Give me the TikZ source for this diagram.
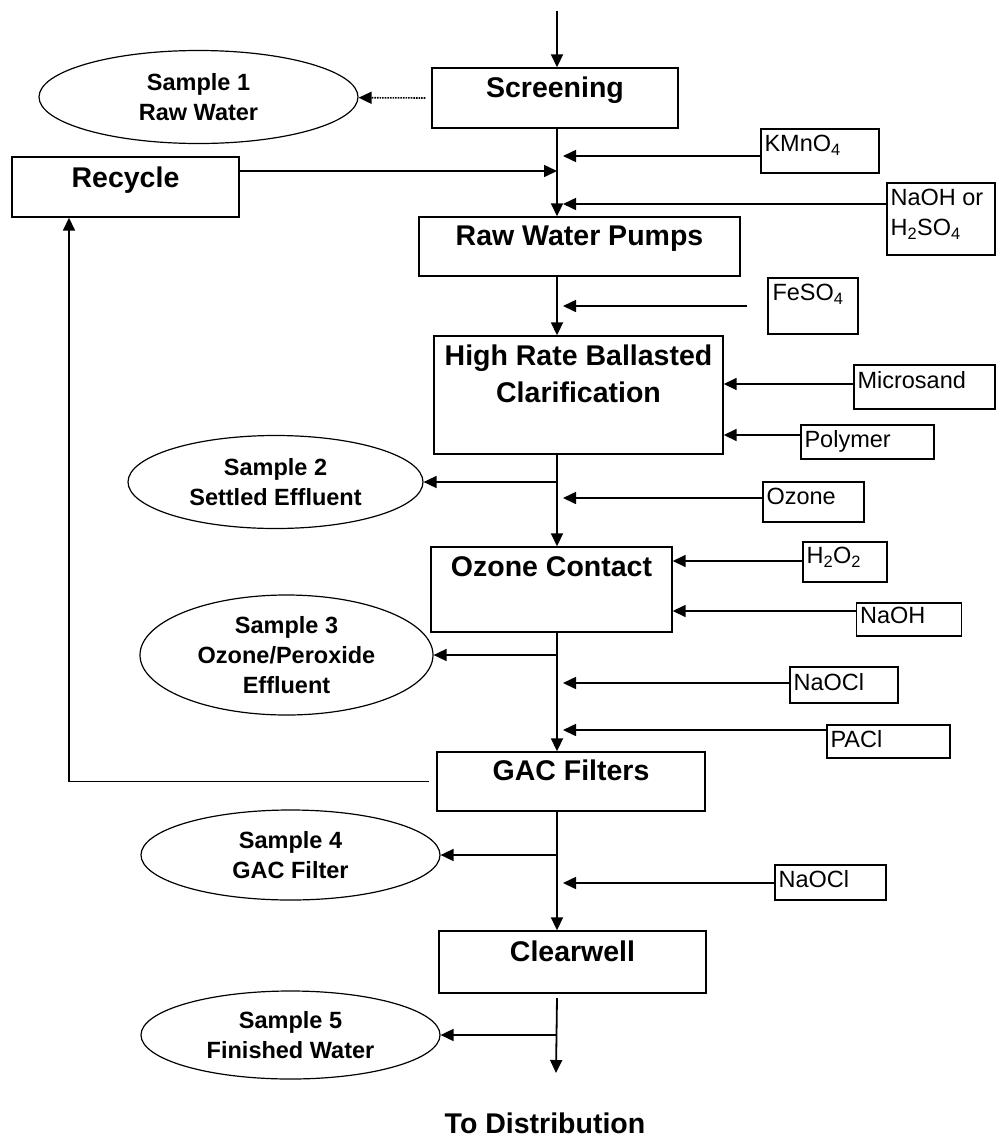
\documentclass[tikz,border=0pt]{standalone}
\usepackage{fontspec}
\setmainfont{Liberation Sans}
\usetikzlibrary{arrows.meta,shapes.geometric}
\tikzset{
  unit/.style={draw, line width=1.4pt, inner sep=0pt},
  unitlabel/.style={anchor=north, inner sep=0pt, align=center, font=\bfseries\fontsize{28.5}{37}\selectfont},
  chem/.style={draw, line width=1.3pt, inner sep=0pt},
  chemlabel/.style={anchor=north west, inner sep=0pt, align=left, font=\fontsize{23.5}{30}\selectfont},
  sample/.style={draw, ellipse, line width=1.2pt, inner sep=0pt, align=center, font=\bfseries\fontsize{23.5}{30}\selectfont},
  flow/.style={line width=1.8pt, -{Triangle[length=13pt,width=12pt]}},
  tap/.style={line width=1.6pt, -{Triangle[length=13pt,width=12pt]}},
}
\begin{document}
\begin{tikzpicture}[x=1pt,y=-1pt]
\useasboundingbox (0,0) rectangle (996,1141);

% treatment units
\node [unit, minimum width=246, minimum height=60] (scr) at (555,98) {};
\node [unit, minimum width=227, minimum height=60] (rec) at (125.5,187) {};
\node [unit, minimum width=321, minimum height=59] (pumps) at (579.5,246.5) {};
\node [unit, minimum width=289, minimum height=118] (hrbc) at (578.5,395) {};
\node [unit, minimum width=241, minimum height=85] (ozc) at (551.5,589.5) {};
\node [unit, minimum width=268, minimum height=59] (gac) at (571,781.5) {};
\node [unit, minimum width=267, minimum height=62] (clw) at (572.5,962) {};

\node [unitlabel] (scrT) at ([yshift=-9pt]scr.north) {Screening};
\node [unitlabel] (recT) at ([yshift=-10pt]rec.north) {Recycle};
\node [unitlabel] (pumpsT) at ([yshift=-9pt]pumps.north) {Raw Water Pumps};
\node [unitlabel] (hrbcT) at ([yshift=-9pt]hrbc.north) {High Rate Ballasted\\Clarification};
\node [unitlabel] (ozcT) at ([yshift=-10pt]ozc.north) {Ozone Contact};
\node [unitlabel] (gacT) at ([yshift=-8pt]gac.north) {GAC Filters};
\node [unitlabel] (clwT) at ([yshift=-10pt]clw.north) {Clearwell};
\node [unitlabel] (dist) at (545,1113) {To Distribution};

% sampling points
\node [sample, minimum width=319, minimum height=93] (s1) at (198.5,97) {Sample 1\\Raw Water};
\node [sample, minimum width=295, minimum height=93] (s2) at (275.5,482) {Sample 2\\Settled Effluent};
\node [sample, minimum width=293, minimum height=120] (s3) at (286.5,655) {Sample 3\\Ozone/Peroxide\\Effluent};
\node [sample, minimum width=299, minimum height=90] (s4) at (290.5,855) {Sample 4\\GAC Filter};
\node [sample, minimum width=299, minimum height=88] (s5) at (290.5,1035) {Sample 5\\Finished Water};

% chemical feeds
\node [chem, minimum width=118, minimum height=44] (kmno) at (820,151) {};
\node [chem, minimum width=108, minimum height=72] (acid) at (941,219) {};
\node [chem, minimum width=90, minimum height=56] (feso) at (813,306) {};
\node [chem, minimum width=141, minimum height=44] (msand) at (924.5,387) {};
\node [chem, minimum width=133, minimum height=34] (poly) at (867.5,442) {};
\node [chem, minimum width=101, minimum height=40] (ozone) at (813.5,502) {};
\node [chem, minimum width=84, minimum height=40] (hyd) at (845,562) {};
\node [chem, minimum width=105, minimum height=33] (naoh) at (909,619.5) {};
\node [chem, minimum width=108, minimum height=36] (nocla) at (844,685) {};
\node [chem, minimum width=123, minimum height=33] (pacl) at (888.5,741.5) {};
\node [chem, minimum width=111, minimum height=35] (noclb) at (830.5,882.5) {};

\node [chemlabel] (kmnoT) at ([xshift=4pt,yshift=-7pt]kmno.north west) {KMnO\textsubscript{4}};
\node [chemlabel] (acidT) at ([xshift=4pt,yshift=-7pt]acid.north west) {NaOH or\\H\textsubscript{2}SO\textsubscript{4}};
\node [chemlabel] (fesoT) at ([xshift=5pt,yshift=-7pt]feso.north west) {FeSO\textsubscript{4}};
\node [chemlabel] (msandT) at ([xshift=4pt,yshift=-7pt]msand.north west) {Microsand};
\node [chemlabel] (polyT) at ([xshift=4pt,yshift=-6pt]poly.north west) {Polymer};
\node [chemlabel] (ozoneT) at ([xshift=4pt,yshift=-7pt]ozone.north west) {Ozone};
\node [chemlabel] (hydT) at ([xshift=4pt,yshift=-6pt]hyd.north west) {H\textsubscript{2}O\textsubscript{2}};
\node [chemlabel] (naohT) at ([xshift=4pt,yshift=-5pt]naoh.north west) {NaOH};
\node [chemlabel] (noclaT) at ([xshift=4pt,yshift=-7pt]nocla.north west) {NaOCl};
\node [chemlabel] (paclT) at ([xshift=4pt,yshift=-6pt]pacl.north west) {PACl};
\node [chemlabel] (noclbT) at ([xshift=4pt,yshift=-6pt]noclb.north west) {NaOCl};

% trunk and feed rows
\coordinate (trunk) at (557,0);
\coordinate (trunkR) at (563,0);
\coordinate (retX) at (69,0);
\coordinate (inlet) at (557,11);
\coordinate (clwOut) at (557,998);
\coordinate (outlet) at (556,1073);
\coordinate (rKMnO) at (0,156);
\coordinate (rRec) at (0,171);
\coordinate (rAcid) at (0,204);
\coordinate (rFeSO) at (0,306);
\coordinate (rMsand) at (0,384);
\coordinate (rPoly) at (0,435);
\coordinate (rOzone) at (0,498);
\coordinate (rHyd) at (0,561);
\coordinate (rNaOH) at (0,611);
\coordinate (rNaOCla) at (0,683);
\coordinate (rPACl) at (0,730);
\coordinate (rNaOClb) at (0,883);

% main flow
\draw [flow] (inlet) -- (scr.north -| inlet);
\draw [flow] (scr.south -| trunk) -- (pumps.north -| trunk);
\draw [flow] (pumps.south -| trunk) -- (hrbc.north -| trunk);
\draw [flow] (hrbc.south -| trunk) -- (ozc.north -| trunk);
\draw [flow] (ozc.south -| trunk) -- (gac.north -| trunk);
\draw [flow] (gac.south -| trunk) -- (clw.north -| trunk);
\draw [flow] (clwOut) -- (outlet);

% recycle loop
\draw [tap] (rec.east |- rRec) -- (trunk |- rRec);
\draw [tap] ([xshift=-7pt]gac.west) -| (retX |- rec.south);

% sample taps
\draw [tap, densely dotted] ([xshift=-6pt]scr.west) -- (s1);
\draw [tap] (s2.east -| trunk) -- (s2.east);
\draw [tap] (s3.east -| trunk) -- (s3.east);
\draw [tap] (s4.east -| trunk) -- (s4.east);
\draw [tap] (s5.east -| trunk) -- (s5.east);

% chemical feed lines
\draw [tap] (kmno.west |- rKMnO) -- (trunkR |- rKMnO);
\draw [tap] (acid.west |- rAcid) -- (trunkR |- rAcid);
\draw [tap] ([xshift=-20pt]feso.west) -- (trunkR |- rFeSO);
\draw [tap] (msand.west |- rMsand) -- (hrbc.east |- rMsand);
\draw [tap] (poly.west |- rPoly) -- (hrbc.east |- rPoly);
\draw [tap] (ozone.west |- rOzone) -- (trunkR |- rOzone);
\draw [tap] (hyd.west |- rHyd) -- (ozc.east |- rHyd);
\draw [tap] (naoh.west |- rNaOH) -- (ozc.east |- rNaOH);
\draw [tap] (nocla.west |- rNaOCla) -- (trunkR |- rNaOCla);
\draw [tap] (pacl.west |- rPACl) -- (trunkR |- rPACl);
\draw [tap] (noclb.west |- rNaOClb) -- (trunkR |- rNaOClb);
\end{tikzpicture}
\end{document}
